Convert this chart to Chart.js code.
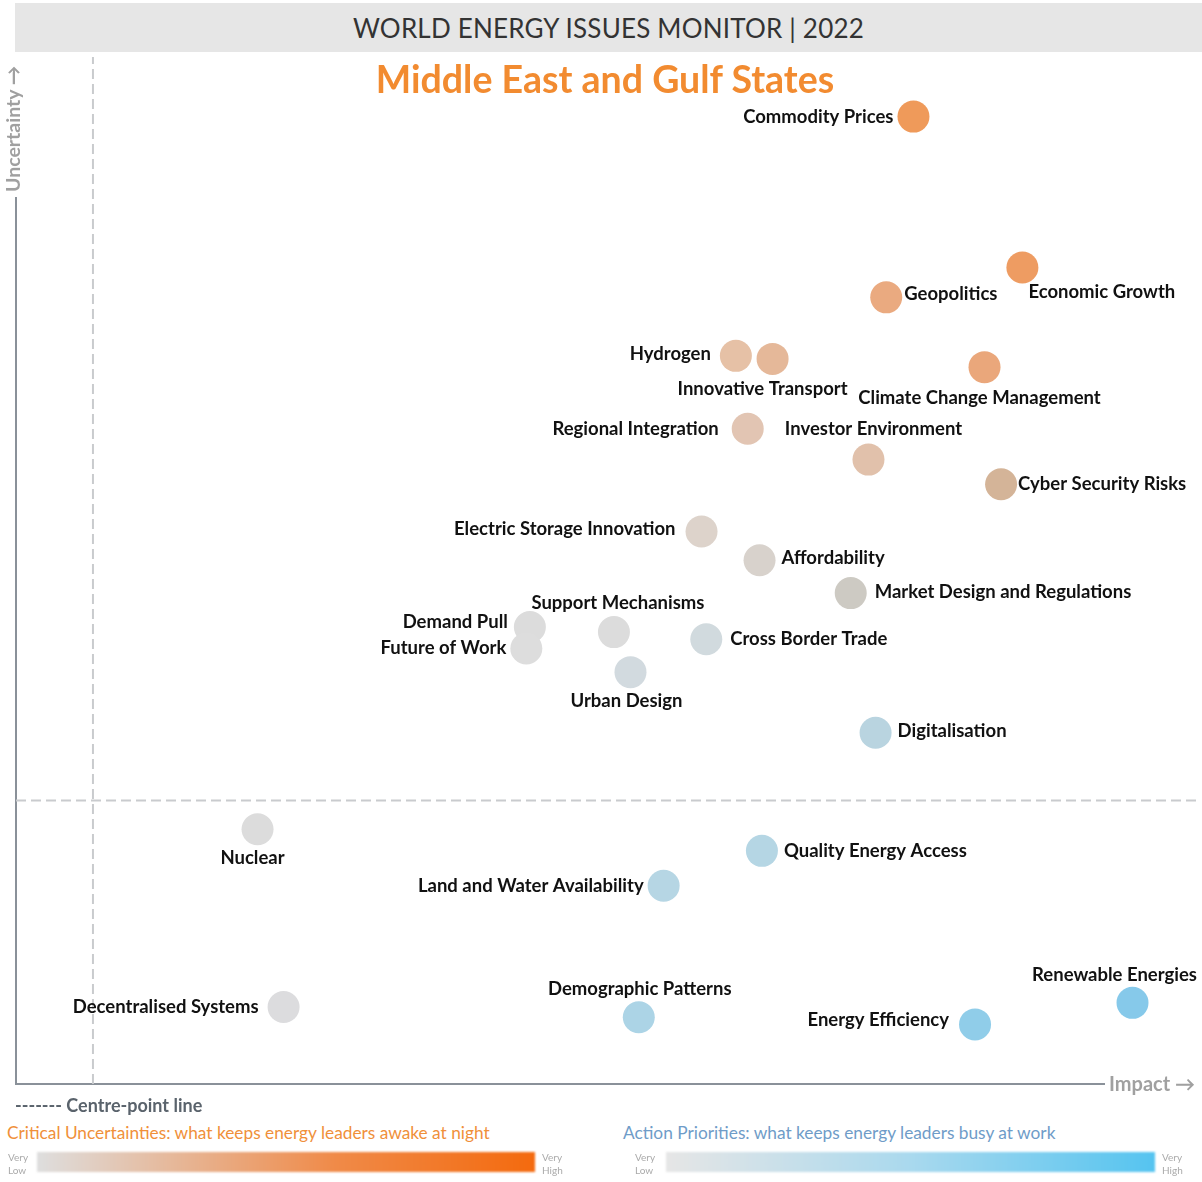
<!DOCTYPE html>
<html>
<head>
<meta charset="utf-8">
<script src="https://cdn.jsdelivr.net/npm/chart.js@4/dist/chart.umd.min.js"></script>
<style>
  body { margin: 0; background: #fff; width: 1202px; height: 1182px; position: relative; overflow: hidden; font-family: Lato, "Open Sans", sans-serif; }
  #head { position: absolute; left: 15px; top: 3px; width: 1187px; height: 49px; background: #e6e6e6; color: #333; font-size: 26px; line-height: 51px; text-align: center; letter-spacing: 0.2px; }
  #sub { position: absolute; left: 0; top: 56px; width: 1210px; text-align: center; color: #f28b30; font-weight: bold; font-size: 37.5px; }
  #wrap { position: absolute; left: 0; top: 55px; width: 1202px; height: 1040px; }
  #yl { position: absolute; left: 1px; top: 192px; transform: rotate(-90deg); transform-origin: 0 0; color: #a0a0a0; font-weight: bold; font-size: 19.5px; white-space: nowrap; filter: blur(0.5px); }
  #xl { position: absolute; left: 1109px; top: 1071px; color: #a0a0a0; font-weight: bold; font-size: 20px; filter: blur(0.5px); }
  .t { position: absolute; white-space: nowrap; }
  .bar { position: absolute; height: 20px; filter: blur(1px); }
  .vl { position: absolute; color: #aaa; font-size: 10px; line-height: 13px; filter: blur(0.6px); }
</style>
</head>
<body>
<div id="head">WORLD ENERGY ISSUES MONITOR | 2022</div>
<div id="wrap"><canvas id="c"></canvas></div>
<div id="sub">Middle East and Gulf States</div>
<div id="yl">Uncertainty &#8594;</div>
<div id="xl">Impact &#8594;</div>

<div class="t" style="left:15px;top:1094px;color:#5a636c;font-weight:bold;font-size:18px;">------- Centre-point line</div>
<div class="t" style="left:7px;top:1122px;color:#f0903a;font-size:17.3px;">Critical Uncertainties: what keeps energy leaders awake at night</div>
<div class="t" style="left:623px;top:1122px;color:#6f9cc8;font-size:17.3px;">Action Priorities: what keeps energy leaders busy at work</div>
<div class="bar" style="left:37px;top:1152px;width:498px;background:linear-gradient(to right,#dedede,#f08a48 60%,#f46a0e);"></div>
<div class="bar" style="left:666px;top:1152px;width:489px;background:linear-gradient(to right,#e6e6e6,#a9d9ee 50%,#55c4f0);"></div>
<div class="vl" style="left:8px;top:1151px;">Very<br>Low</div>
<div class="vl" style="left:542px;top:1151px;">Very<br>High</div>
<div class="vl" style="left:635px;top:1151px;">Very<br>Low</div>
<div class="vl" style="left:1162px;top:1151px;">Very<br>High</div>

<script>
var issues = ['Commodity Prices', 'Economic Growth', 'Geopolitics', 'Hydrogen', 'Innovative Transport',
  'Climate Change Management', 'Regional Integration', 'Investor Environment', 'Cyber Security Risks',
  'Electric Storage Innovation', 'Affordability', 'Market Design and Regulations', 'Support Mechanisms',
  'Demand Pull', 'Future of Work', 'Cross Border Trade', 'Urban Design', 'Digitalisation', 'Nuclear',
  'Quality Energy Access', 'Land and Water Availability', 'Decentralised Systems', 'Demographic Patterns',
  'Energy Efficiency', 'Renewable Energies'];
var impact = [7.58, 8.50, 7.35, 6.08, 6.39, 8.18, 6.18, 7.20, 8.32, 5.79, 6.28, 7.05, 5.05,
  4.34, 4.31, 5.83, 5.19, 7.26, 2.04, 6.30, 5.47, 2.26, 5.26, 8.10, 9.43];
var uncertainty = [9.42, 7.95, 7.66, 7.09, 7.06, 6.98, 6.38, 6.08, 5.84, 5.38, 5.10, 4.78, 4.40,
  4.45, 4.24, 4.33, 4.01, 3.42, 2.48, 2.27, 1.93, 0.75, 0.65, 0.58, 0.79];
var centreImpact = 0.65;
var centreUncertainty = 2.76;

// colours and label placement (dx, dy, align) per issue
var colours = ['#ef9a5a', '#ee9c62', '#eaaa80', '#e6c1a6', '#e5b899', '#eaa77b', '#e2c5b3', '#e1c1ab',
  '#d4b498', '#ddd3cb', '#d8d2cc', '#cdcac3', '#dcdcdc', '#dcdcdc', '#dddddd', '#d1dade', '#d2dadf',
  '#b9d4e0', '#dcdcdc', '#b5d6e4', '#b6d6e4', '#dcdcde', '#acd4e6', '#90cde9', '#86c9ea'];
var place = [[-20, 0, 'right'], [6, 24, 'left'], [18, -3, 'left'], [-25, -2, 'right'], [-10, 30, 'center'],
  [-5, 31, 'center'], [-29, 0, 'right'], [5, -31, 'center'], [17, 0, 'left'], [-26, -2, 'right'],
  [22, -2, 'left'], [24, -1, 'left'], [4, -29, 'center'], [-22, -5, 'right'], [-20, -1, 'right'],
  [24, 0, 'left'], [-4, 29, 'center'], [22, -2, 'left'], [-5, 29, 'center'], [22, 0, 'left'],
  [-20, 0, 'right'], [-25, 0, 'right'], [1, -28, 'center'], [-26, -4, 'right'], [-18, -28, 'center']];

var X_MAX = 10, Y_MAX = 10;

var points = issues.map(function(n, i){ return { x: impact[i], y: uncertainty[i] }; });

var axesAndLabels = {
  id: 'axesAndLabels',
  beforeDatasetsDraw: function(chart){
    var ctx = chart.ctx, a = chart.chartArea;
    ctx.save();
    ctx.strokeStyle = '#8a9199';
    ctx.lineWidth = 2;
    ctx.beginPath();
    ctx.moveTo(a.left, a.top + 140);
    ctx.lineTo(a.left, a.bottom);
    ctx.lineTo(a.right - 95, a.bottom);
    ctx.stroke();
    ctx.restore();
  },
  afterDatasetsDraw: function(chart){
    var ctx = chart.ctx;
    var meta = chart.getDatasetMeta(0);
    ctx.save();
    ctx.font = 'bold 18.5px Lato, "Open Sans", sans-serif';
    ctx.fillStyle = '#111';
    ctx.textBaseline = 'middle';
    meta.data.forEach(function(pt, i){
      var p = place[i];
      ctx.textAlign = p[2];
      ctx.fillText(issues[i], pt.x + p[0], pt.y + p[1]);
    });
    ctx.restore();
  }
};

new Chart(document.getElementById('c'), {
  type: 'scatter',
  data: {
    datasets: [{
      data: points,
      backgroundColor: colours,
      borderWidth: 0,
      pointRadius: 16,
      order: 0
    }, {
      type: 'line',
      data: [{ x: centreImpact, y: 0 }, { x: centreImpact, y: Y_MAX }],
      borderColor: '#c9cbce',
      borderWidth: 2,
      borderDash: [10, 5],
      pointRadius: 0,
      order: 1
    }, {
      type: 'line',
      data: [{ x: 0, y: centreUncertainty }, { x: X_MAX, y: centreUncertainty }],
      borderColor: '#c9cbce',
      borderWidth: 2,
      borderDash: [10, 5],
      pointRadius: 0,
      order: 1
    }]
  },
  options: {
    responsive: true,
    maintainAspectRatio: false,
    animation: false,
    events: [],
    clip: false,
    layout: { autoPadding: false, padding: { left: 16, right: 2, top: 2, bottom: 11 } },
    plugins: { legend: { display: false }, tooltip: { enabled: false } },
    scales: {
      x: { type: 'linear', min: 0, max: X_MAX, display: false },
      y: { type: 'linear', min: 0, max: Y_MAX, display: false }
    }
  },
  plugins: [axesAndLabels]
});
</script>
</body>
</html>
